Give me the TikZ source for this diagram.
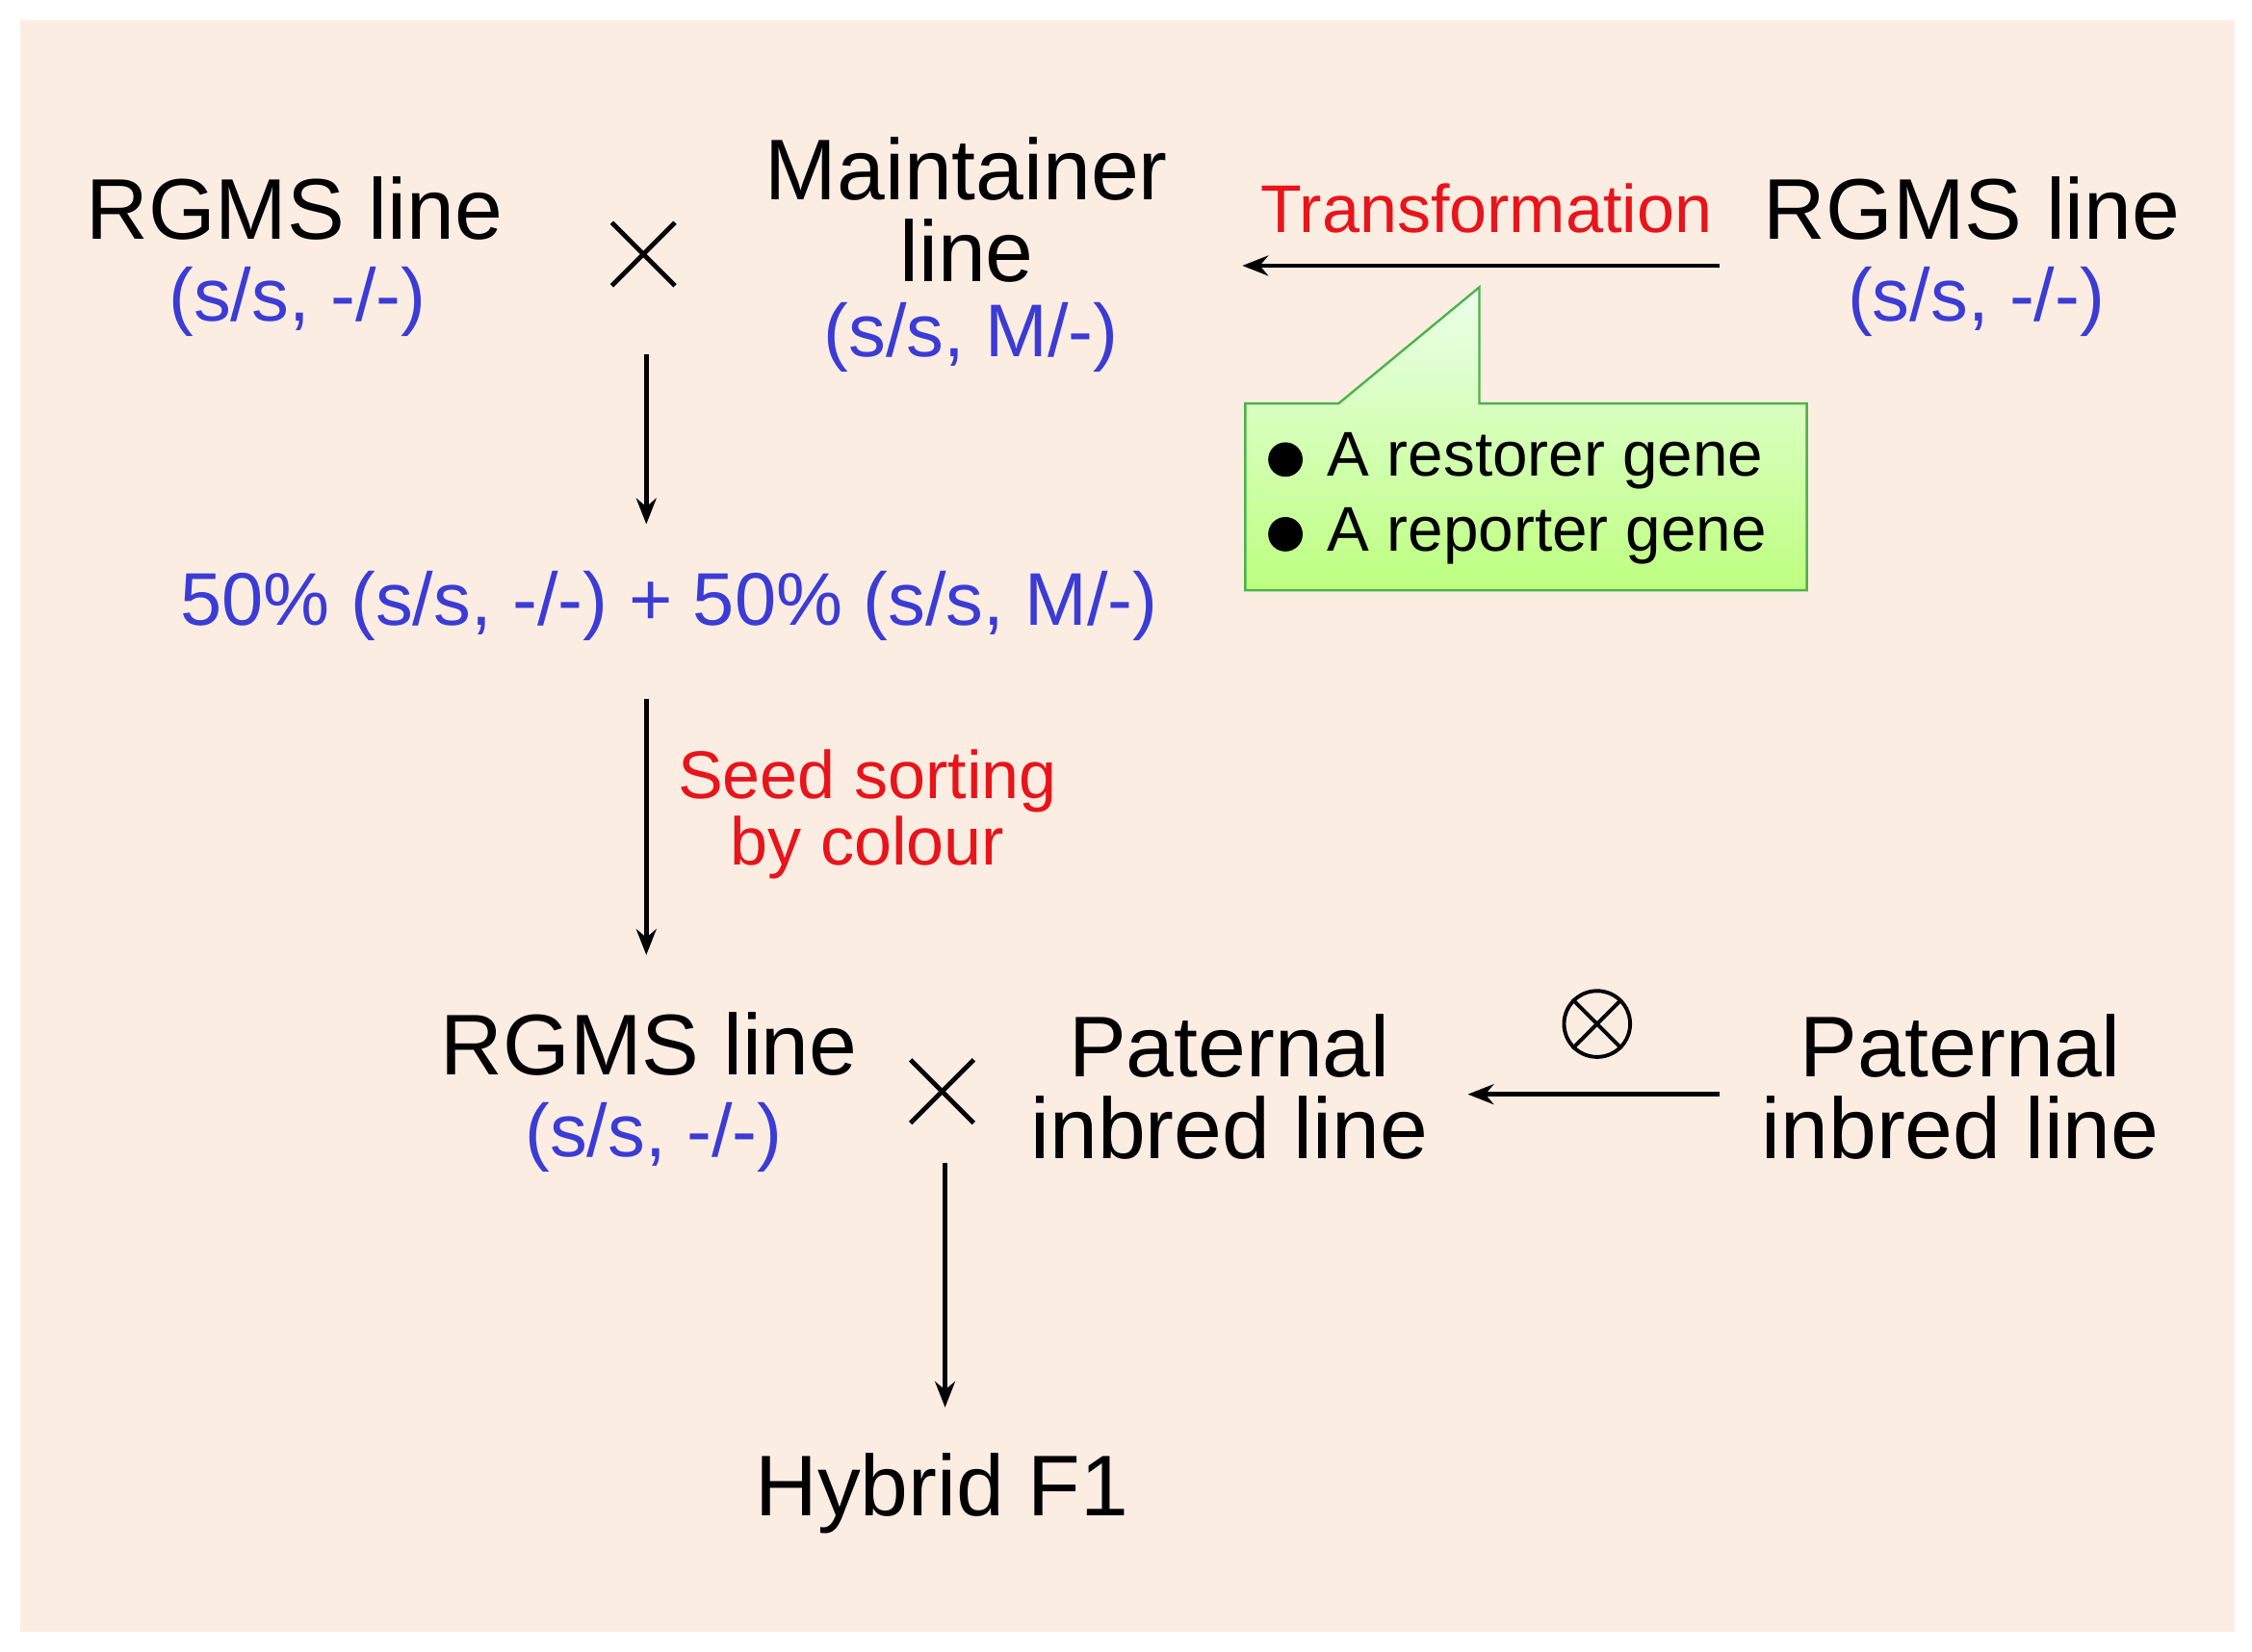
\documentclass[tikz,border=0pt]{standalone}
\usepackage{fontspec}
\setmainfont{Liberation Sans}
\usetikzlibrary{arrows.meta}
\definecolor{bg}{HTML}{FCEDE2}
\definecolor{bl}{HTML}{3B3BD6}
\definecolor{rd}{HTML}{E8141B}
\begin{document}
\begin{tikzpicture}[x=0.5pt,y=-0.5pt,
 big/.style={font=\fontsize{30}{28.5}\selectfont,align=center,inner sep=0},
 blue/.style={font=\fontsize{26}{28}\selectfont,text=bl,inner sep=0},
 red/.style={font=\fontsize{23.5}{23}\selectfont,text=rd,align=center,inner sep=0},
 arr/.style={line width=1.5pt,-{Stealth[length=9pt,width=7pt]}},
 cross/.style={line width=1.6pt}]
\useasboundingbox (0,0) rectangle (1568,1150);
\fill[bg] (14,14) rectangle (1556,1136);
% top row
\node[big] (r1) at (205,145) {RGMS line};
\node[blue] (r1b) at (207,210) {(s/s, -/-)};
\draw[cross] (426,155)--(470,199) (470,155)--(426,199);
\node[big] (m) at (673,146) {Maintainer\\line};
\node[blue] (mb) at (676,235) {(s/s, M/-)};
\node[red] (tr) at (1035,145) {Transformation};
\node[big] (r2) at (1373,145) {RGMS line};
\node[blue] (r2b) at (1376,210) {(s/s, -/-)};
\coordinate (t1) at (1197,185); \coordinate (t2) at (865,185);
\draw[arr] (t1)--(t2);
% callout
\shade[top color=green!8!white, bottom color=green!35!lime!50!white, draw=green!40!gray, line width=0.8pt]
 (867,281) -- (932,281) -- (1030,200) -- (1030,281) -- (1258,281) -- (1258,411) -- (867,411) -- cycle;
\fill (895,320) circle (12); \fill (895,372) circle (12);
\node[anchor=west,font=\fontsize{22}{24}\selectfont,inner sep=0] (g1) at (924,321) {A restorer gene};
\node[anchor=west,font=\fontsize{22}{24}\selectfont,inner sep=0] (g2) at (924,373) {A reporter gene};
% middle
\coordinate (a1) at (450,247); \coordinate (a2) at (450,365);
\draw[arr] (a1)--(a2);
\node[blue] (mix) at (466,422) {50\% (s/s, -/-) + 50\% (s/s, M/-)};
\coordinate (b1) at (450,487); \coordinate (b2) at (450,665);
\draw[arr] (b1)--(b2);
\node[red] (ss) at (604,567) {Seed sorting\\by colour};
% bottom row
\node[big] (r3) at (452,727) {RGMS line};
\node[blue] (r3b) at (455,792) {(s/s, -/-)};
\draw[cross] (634,738)--(678,782) (678,738)--(634,782);
\node[big] (p1) at (856,757) {Paternal\\inbred line};
\node[draw,circle,line width=1.3pt,minimum size=23pt,inner sep=0] (self) at (1112,713) {};
\draw[line width=1.3pt] (self.north west)--(self.south east) (self.north east)--(self.south west);
\node[big] (p2) at (1365,757) {Paternal\\inbred line};
\coordinate (c1) at (1197,762); \coordinate (c2) at (1022,762);
\draw[arr] (c1)--(c2);
\coordinate (d1) at (658,810); \coordinate (d2) at (658,980);
\draw[arr] (d1)--(d2);
\node[big] (f1) at (656,1040) {Hybrid F1};
\end{tikzpicture}
\end{document}
